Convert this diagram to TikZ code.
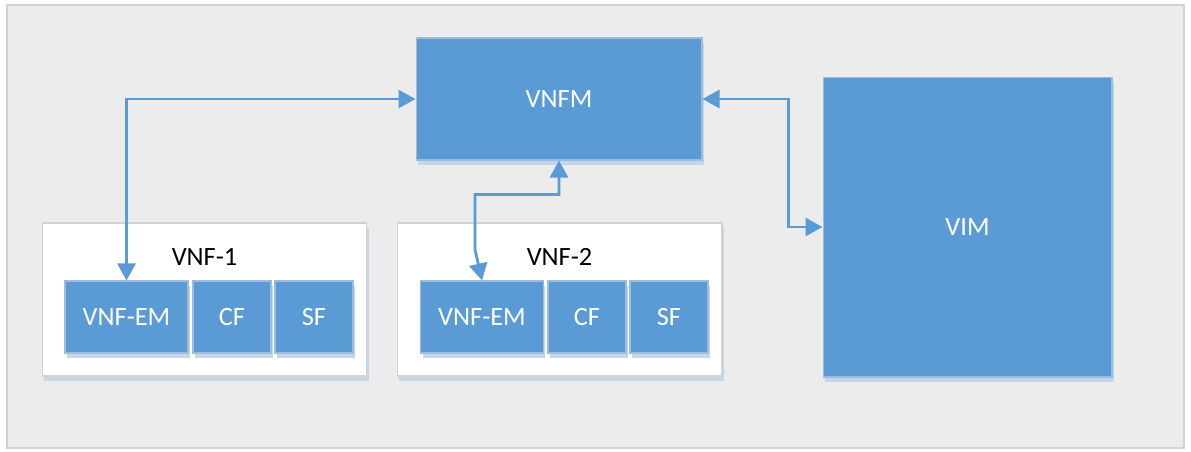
\documentclass[tikz,border=0pt]{standalone}
\usepackage{fontspec}
\setmainfont{Carlito}
\usetikzlibrary{arrows.meta,positioning}
\definecolor{boxblue}{HTML}{5B9BD5}
\definecolor{boxedge}{HTML}{9DBBDD}
\definecolor{shadeblue}{HTML}{C6D6E9}
\definecolor{backgray}{HTML}{ECECEC}
\definecolor{backedge}{HTML}{D2D2D2}
\tikzset{
	shadowed/.style={preaction={fill=shadeblue, transform canvas={shift={(0.04cm,-0.1cm)}}}},
	bluebox/.style={shadowed, draw=boxedge, line width=0.6pt, fill=boxblue, text=white, inner sep=0pt, font=\fontsize{15}{17}\selectfont},
	vnfbox/.style={shadowed, draw=backedge, line width=0.6pt, fill=white, inner sep=0pt},
	link/.style={draw=boxblue, line width=1.6pt, {Triangle[length=0.34cm,width=0.36cm]}-{Triangle[length=0.34cm,width=0.36cm]}}
}

\begin{document}
\begin{tikzpicture}[x=0.02cm, y=-0.02cm]
		%%%%% START %%%%%
		\useasboundingbox (0, 0) rectangle (1191, 451);
		\draw[fill=backgray, draw=backedge, line width=0.8pt] (7, 5) rectangle (1184, 448);
		
		\node[bluebox, minimum width=5.72cm, minimum height=2.44cm] (vnfm) at (559, 99) {VNFM};
		\node[bluebox, minimum width=5.78cm, minimum height=6cm] (vim) at (967.5, 227) {VIM};
		
		\node[vnfbox, minimum width=6.5cm, minimum height=3.06cm] (vnf1) at (204.5, 299.5) {};
		\node[vnfbox, minimum width=6.5cm, minimum height=3.06cm] (vnf2) at (559.5, 299.5) {};
		\node[font=\fontsize{15}{17}\selectfont, below=0.4cm of vnf1.north] (vnf1label) {VNF-1};
		\node[font=\fontsize{15}{17}\selectfont, below=0.4cm of vnf2.north] (vnf2label) {VNF-2};
		
		\node[bluebox, minimum width=2.46cm, minimum height=1.44cm] (em1) at (126.5, 317) {VNF-EM};
		\node[bluebox, minimum width=1.56cm, minimum height=1.44cm] (cf1) at (232, 317) {CF};
		\node[bluebox, minimum width=1.56cm, minimum height=1.44cm] (sf1) at (314, 317) {SF};
		
		\node[bluebox, minimum width=2.46cm, minimum height=1.44cm] (em2) at (482, 317) {VNF-EM};
		\node[bluebox, minimum width=1.56cm, minimum height=1.44cm] (cf2) at (587, 317) {CF};
		\node[bluebox, minimum width=1.56cm, minimum height=1.44cm] (sf2) at (669, 317) {SF};
		
		\draw[link] (vnfm.west) -| (em1.north);
		\draw[link] (vnfm.south) -- ++(0, 34) -- ++(-84, 0) -- ++(0, 55) -- (em2.north);
		\draw[link] (vnfm.east) -- ++(86, 0) |- (vim.west);
		%%%%% END %%%%%
\end{tikzpicture}
\end{document}
